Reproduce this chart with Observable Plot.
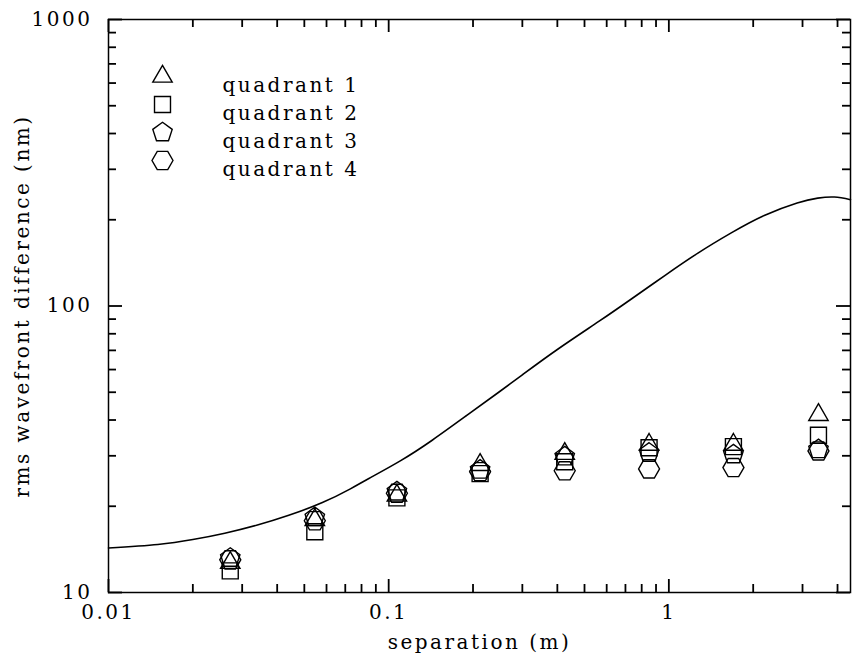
<!DOCTYPE html>
<html><head><meta charset="utf-8">
<script src="https://cdn.jsdelivr.net/npm/d3@7"></script>
<script src="https://cdn.jsdelivr.net/npm/@observablehq/plot@0.6"></script>
<style>
body{margin:0;background:#fff}
#chart{width:852px;height:669px}
#chart svg text{letter-spacing:2.5px}
</style>
</head><body><div id="chart"></div>
<script>
// separations (m) of the measured points
const separation = [0.0272, 0.0545, 0.107, 0.212, 0.425, 0.85, 1.70, 3.42];
// rms wavefront difference (nm) per quadrant
const quadrant1 = [12.7, 17.9, 21.8, 27.9, 30.5, 32.8, 32.8, 41.7];
const quadrant2 = [11.9, 16.3, 21.4, 26.0, 28.6, 32.0, 32.3, 35.4];
const quadrant3 = [13.2, 18.3, 22.5, 26.8, 29.8, 30.7, 30.3, 31.6];
const quadrant4 = [13.0, 17.8, 22.2, 26.4, 26.6, 27.0, 27.3, 31.2];
// model curve
const curveSep = [0.01, 0.015, 0.02, 0.026, 0.034, 0.044, 0.058, 0.073, 0.085, 0.11, 0.143, 0.19, 0.247, 0.3, 0.4, 0.564, 0.737, 0.97, 1.27, 1.67, 2.19, 2.87, 3.4, 3.9, 4.45];
const curveRms = [14.3, 14.7, 15.3, 16.1, 17.2, 18.6, 20.6, 23.0, 25.0, 28.8, 34.0, 41.5, 50.0, 57.5, 70.5, 88.5, 106, 128, 153, 180, 207, 229, 238, 240, 235];
// ticks
const xMajor = [0.01, 0.1, 1];
const xMinor = [0.02,0.03,0.04,0.05,0.06,0.07,0.08,0.09,0.2,0.3,0.4,0.5,0.6,0.7,0.8,0.9,2,3,4];
const yMajor = [10, 100, 1000];
const yMinor = [20,30,40,50,60,70,80,90,200,300,400,500,600,700,800,900];
const xTickLabels = ["0.01", "0.1", "1"];
const yTickLabels = ["10", "100", "1000"];
const legendLabels = ["quadrant 1", "quadrant 2", "quadrant 3", "quadrant 4"];

const W = 852, H = 669, ML = 108, MR = 2, MT = 19, MB = 77;
const FW = W - ML - MR, FH = H - MT - MB;
const xDomain = [0.01, 4.45], yDomain = [10, 1000];

function polygon(n, k, rot) {
  return {
    draw(ctx, size) {
      const R = Math.sqrt(size / Math.PI) * k;
      for (let i = 0; i < n; i++) {
        const a = rot + 2 * Math.PI * i / n;
        const px = R * Math.sin(a), py = -R * Math.cos(a);
        if (i) ctx.lineTo(px, py); else ctx.moveTo(px, py);
      }
      ctx.closePath();
    }
  };
}
const symbols = [polygon(3, 1.12, 0), polygon(4, 1.13, Math.PI / 4), polygon(5, 1.02, 0), polygon(6, 1.05, Math.PI / 2)];
const series = [quadrant1, quadrant2, quadrant3, quadrant4];

// convert a tick length in pixels to a multiplicative factor on each log axis
const xDec = FW / Math.log10(xDomain[1] / xDomain[0]);
const yDec = FH / Math.log10(yDomain[1] / yDomain[0]);
const fx = px => 10 ** (px / xDec);
const fy = px => 10 ** (px / yDec);

const fmt = (arr, labels) => d => labels[arr.indexOf(d)];
const dotStyle = {r: 10, stroke: "#000", strokeWidth: 1.4, fill: "none"};
const tk = {stroke: "#000", strokeWidth: 1.8};
const xTicks = (arr, len) => [
  Plot.ruleX(arr, {x: d => d, y1: yDomain[0], y2: yDomain[0] * fy(len), ...tk}),
  Plot.ruleX(arr, {x: d => d, y1: yDomain[1], y2: yDomain[1] / fy(len), ...tk})
];
const yTicks = (arr, len) => [
  Plot.ruleY(arr, {y: d => d, x1: xDomain[0], x2: xDomain[0] * fx(len), ...tk}),
  Plot.ruleY(arr, {y: d => d, x1: xDomain[1], x2: xDomain[1] / fx(len), ...tk})
];

const marks = [
  Plot.frame({stroke: "#000", strokeWidth: 1.5}),
  Plot.axisX({ticks: xMajor, anchor: "bottom", tickSize: 0, tickPadding: 12, tickFormat: fmt(xMajor, xTickLabels),
    label: "separation (m)", labelAnchor: "center", labelOffset: 56, labelArrow: "none", fontSize: 20}),
  Plot.axisY({ticks: yMajor, anchor: "left", tickSize: 0, tickPadding: 16, tickFormat: fmt(yMajor, yTickLabels),
    label: "rms wavefront difference (nm)", labelAnchor: "center", labelOffset: 94, labelArrow: "none", fontSize: 20}),
  ...xTicks(xMajor, 13), ...xTicks(xMinor, 8),
  ...yTicks(yMajor, 14), ...yTicks(yMinor, 8),
  Plot.line(curveSep.map((x, i) => ({x, y: curveRms[i]})), {x: "x", y: "y", curve: "natural", stroke: "#000", strokeWidth: 1.6})
];
series.forEach((s, k) => {
  marks.push(Plot.dot(separation.map((x, i) => ({x, y: s[i]})), {x: "x", y: "y", symbol: symbols[k], ...dotStyle}));
});
legendLabels.forEach((lab, k) => {
  marks.push(Plot.dot([lab], {frameAnchor: "top-left", dx: 54, dy: 57 + k * 28, symbol: symbols[k], ...dotStyle}));
  marks.push(Plot.text([lab], {frameAnchor: "top-left", dx: 114, dy: 58 + k * 28, text: d => d, textAnchor: "start", fontSize: 20, fill: "#000"}));
});

const plot = Plot.plot({
  width: W, height: H,
  marginLeft: ML, marginRight: MR, marginTop: MT, marginBottom: MB,
  style: {fontFamily: "'DejaVu Serif', serif", fontSize: "20px", color: "#000", background: "#fff", overflow: "visible"},
  x: {type: "log", domain: xDomain},
  y: {type: "log", domain: yDomain},
  marks
});
document.getElementById("chart").appendChild(plot);
</script>
</body></html>
